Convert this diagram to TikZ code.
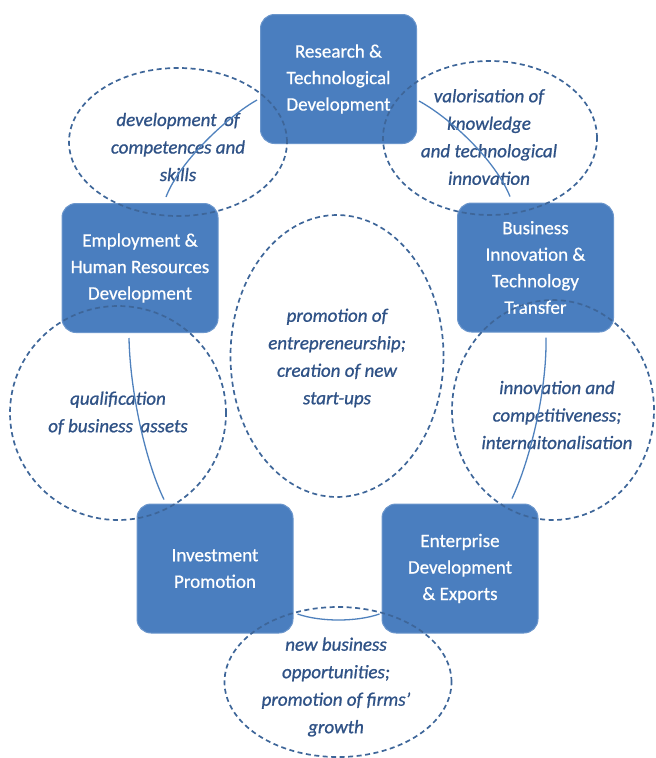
\documentclass[tikz,border=0pt]{standalone}
\usepackage{fontspec}
\setmainfont{Carlito}
\newfontfamily\boxfont[FakeBold=0.6,Ligatures=TeX]{Carlito}
\newfontfamily\ovalfont[FakeBold=0.9,Ligatures=TeX]{Carlito}
\usetikzlibrary{calc,shapes.geometric}
\definecolor{boxblue}{HTML}{4A7EBF}
\definecolor{boxedge}{HTML}{6B96CC}
\definecolor{dashblue}{HTML}{3E6699}
\definecolor{txtblue}{HTML}{2F5286}
\definecolor{lineblue}{HTML}{4F81BD}
\begin{document}
\begin{tikzpicture}[x=1pt,y=-1pt,
  box/.style={draw=boxedge, line width=1pt, fill=boxblue, rounded corners=14pt,
    text=white, align=center, font=\boxfont\fontsize{19}{26.5}\selectfont,
    inner sep=0pt, minimum width=156pt, minimum height=129pt},
  oval/.style={ellipse, draw=dashblue, line width=1.7pt, dash pattern=on 5pt off 3.5pt, inner sep=0pt},
  otext/.style={text=txtblue, align=center, font=\ovalfont\fontsize{19}{27.5}\selectfont\itshape, inner sep=0pt},
  conn/.style={draw=lineblue, line width=1.3pt}
]
\useasboundingbox (0,0) rectangle (656,758);

% boxes
\node[box] (R)  at (338.5,79)   {Research \&\\Technological\\Development};
\node[box] (B)  at (535.5,267.5) {Business\\Innovation \&\\Technology\\Transfer};
\node[box] (E)  at (140,268)    {Employment \&\\Human Resources\\Development};
\node[box] (I)  at (215,568.5)  {Investment\\Promotion};
\node[box] (En) at (460,568.5)  {Enterprise\\Development\\\& Exports};

% dashed ellipses
\node[oval, minimum width=218pt, minimum height=148pt] (o1) at (178,142) {};
\node[oval, minimum width=214pt, minimum height=154pt] (o2) at (490,138) {};
\node[oval, minimum width=216pt, minimum height=214pt] (o3) at (118,413) {};
\node[oval, minimum width=202pt, minimum height=220pt] (o4) at (553,410) {};
\node[oval, minimum width=213pt, minimum height=282pt] (o5) at (337,356) {};
\node[oval, minimum width=227pt, minimum height=150pt] (o6) at (338,682) {};

% ellipse texts
\node[otext] (t1) at ($(o1)+(0,5)$) {development\, of\\competences and\\skills};
\node[otext] (t2) at ($(o2)+(-1,-1)$) {valorisation of\\knowledge\\and technological\\innovation};
\node[otext] (t3) at (o3) {qualification\\of business\, assets};
\node[otext] (t4) at ($(o4)+(4,5)$) {innovation and\\competitiveness;\\internaitonalisation};
\node[otext] (t5) at ($(o5)+(0,2)$) {promotion of\\entrepreneurship;\\creation of new\\start-ups};
\node[otext] (t6) at ($(o6)+(-2,5)$) {new business\\opportunities;\\promotion of firms’\\growth};

% connectors
\draw[conn] ($(R.west)+(-3,21)$) .. controls +(-27,15) and +(14,-37) .. ($(E.north)+(26,-6)$);
\draw[conn] ($(R.east)+(2,22)$) .. controls +(31,17) and +(-15,-37) .. ($(B.north)+(-25.5,-6)$);
\draw[conn] ($(E.south)+(-11,5)$) .. controls +(1,52) and +(-19,-39) .. ($(I.north)+(-51,-4)$);
\draw[conn] ($(B.south)+(10.5,5)$) .. controls +(1,53) and +(18,-38) .. ($(En.north)+(52,-5)$);
\draw[conn] ($(I.east)+(4,45.5)$) .. controls +(23,8) and +(-23,8) .. ($(En.west)+(-2,45.5)$);
\end{tikzpicture}
\end{document}
